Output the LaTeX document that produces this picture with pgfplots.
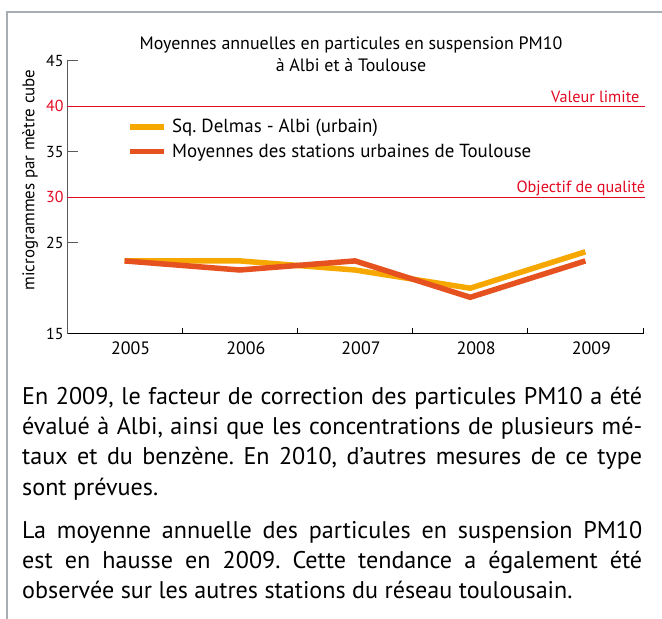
\documentclass[border=0pt]{standalone}
\usepackage{fontspec}
\setmainfont{PT Sans}
\usepackage{pgfplots}
\pgfplotsset{compat=1.18}
\definecolor{albi}{RGB}{246,168,0}
\definecolor{tls}{RGB}{229,82,32}
\definecolor{lim}{RGB}{227,10,35}
\definecolor{framec}{RGB}{168,174,179}
\definecolor{yax}{RGB}{90,90,90}
\frenchspacing
\begin{document}
\begin{tikzpicture}[x=1bp,y=1bp]
\path[use as bounding box] (0,0) rectangle (662,-619);
\draw[framec, line width=2bp] (6.5,-622) -- (6.5,-12) -- (665,-12);
\begin{axis}[
  scale only axis, width=576bp, height=273bp,
  at={(67bp,-333.7bp)}, anchor=south west,
  xmin=-0.5, xmax=4.5, ymin=15, ymax=45,
  axis x line=bottom, axis y line=left,
  axis line style={-},
  x axis line style={black, line width=1.2bp},
  y axis line style={yax, line width=1bp},
  clip=false,
  /pgf/number format/assume math mode=true,
  tick align=inside,
  xtick={0,1,2,3,4}, xticklabels={2005,2006,2007,2008,2009},
  major x tick style={draw=none},
  minor xtick={0.5,1.5,2.5,3.5,4.5},
  minor tick length=6bp,
  minor x tick style={black, line width=0.8bp},
  xticklabel style={font=\fontsize{18}{21}\selectfont, xshift=6bp, yshift=-5bp},
  major tick length=11bp,
  ytick={15,25,35,45},
  major y tick style={yax, line width=1bp},
  extra y ticks={30,40},
  extra y tick style={major tick length=0pt, yticklabel style={text=lim}},
  yticklabel style={font=\fontsize{16}{19}\selectfont},
  ylabel={microgrammes par mètre cube},
  ylabel style={at={(axis description cs:-0.0642,0.563)}, anchor=center, font=\fontsize{17}{20}\selectfont},
  legend style={at={(axis description cs:0.105,0.793)}, anchor=north west, draw=none, fill=none,
    font=\fontsize{19}{22}\selectfont, row sep=5.5bp, inner xsep=0pt, inner ysep=0pt,
    /tikz/every odd column/.append style={column sep=3bp}},
  legend cell align=left,
  legend image code/.code={\draw[#1, line width=5.5bp] (0bp,0bp) -- (34bp,0bp);},
]
\addplot[lim, line width=1.3bp, forget plot] coordinates {(-0.5,40) (4.52,40)};
\addplot[lim, line width=1.3bp, forget plot] coordinates {(-0.5,30) (4.52,30)};
\addplot[albi, line width=5.5bp] coordinates {(0,23) (1,23) (2,22) (3,20) (4,24)};
\addplot[tls, line width=5.5bp] coordinates {(0,23) (1,22) (2,23) (3,19) (4,23)};
\legend{Sq. Delmas - Albi (urbain), Moyennes des stations urbaines de Toulouse}
\node[anchor=base east, text=lim, font=\fontsize{16.3}{19}\selectfont, inner sep=0pt] at (axis cs:4.47,40.45) {Valeur limite};
\node[anchor=base east, text=lim, font=\fontsize{16.3}{19}\selectfont, inner sep=0pt] at (axis cs:4.52,30.5) {Objectif de qualité};
\end{axis}
\node[align=center, font=\fontsize{18}{22}\selectfont] at (351,-54) {Moyennes annuelles en particules en suspension PM10\\à Albi et à Toulouse};
\node[anchor=north west, inner sep=0pt, text width=620bp, align=justify, font=\fontsize{24.2}{30.3}\selectfont] at (22,-387)
{En 2009, le facteur de correction des particules PM10 a été\linebreak évalué à Albi, ainsi que les concentrations de plusieurs mé-\linebreak taux et du benzène. En 2010, d’autres mesures de ce type\linebreak sont prévues.};
\node[anchor=north west, inner sep=0pt, text width=620bp, align=justify, font=\fontsize{24.2}{30.3}\selectfont] at (22,-521)
{La moyenne annuelle des particules en suspension PM10\linebreak est en hausse en 2009. Cette tendance a également été\linebreak observée sur les autres stations du réseau toulousain.};
\end{tikzpicture}
\end{document}
